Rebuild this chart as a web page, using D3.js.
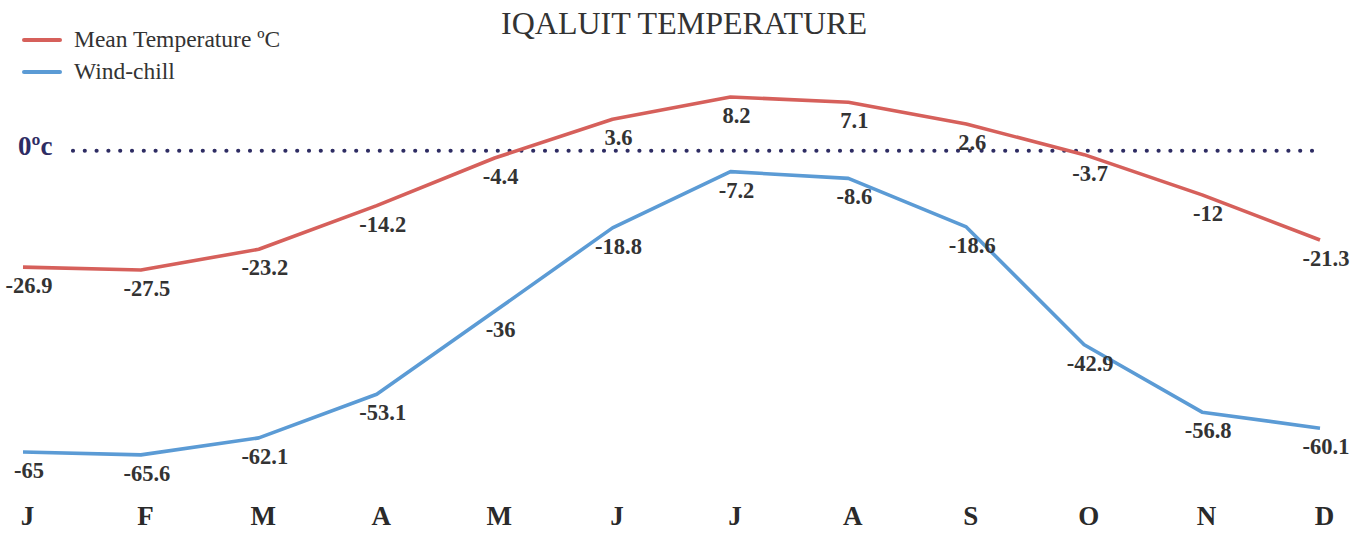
<!DOCTYPE html>
<html>
<head>
<meta charset="utf-8">
<script src="https://cdn.jsdelivr.net/npm/d3@7"></script>
<style>
  html, body { margin: 0; padding: 0; background: #fff; }
  svg { display: block; }
</style>
</head>
<body>
<svg id="chart" width="1363" height="533"></svg>
<script>
// ---- data ----
const months = ["J","F","M","A","M","J","J","A","S","O","N","D"];
const monthKeys = ["Jan","Feb","Mar","Apr","May","Jun","Jul","Aug","Sep","Oct","Nov","Dec"];
const meanTemp = [-26.9, -27.5, -23.2, -14.2, -4.4, 3.6, 8.2, 7.1, 2.6, -3.7, -12, -21.3];
const windChill = [-65, -65.6, -62.1, -53.1, -36, -18.8, -7.2, -8.6, -18.6, -42.9, -56.8, -60.1];
const seriesNames = ["Mean Temperature ºC", "Wind-chill"];
const title = "IQALUIT TEMPERATURE";
const zeroLabel = "0ºc";
const zeroLineValue = -2.9; // where the reference draws its dotted "0ºc" line

// ---- layout ----
const W = 1363, H = 533;
const serif = "'Liberation Serif', 'DejaVu Serif', serif";
const colors = ["#d6605b", "#5b9bd5"];
const navy = "#2e2c63";
const textColor = "#333333";

const svg = d3.select("#chart");

const x = d3.scalePoint().domain(monthKeys).range([23, 1320]);
const y = d3.scaleLinear().domain([-70, 10]).range([476.2, 88.2]);

// title
svg.append("text")
  .attr("x", 684).attr("y", 34)
  .attr("text-anchor", "middle")
  .attr("font-family", serif).attr("font-size", 32)
  .attr("fill", textColor)
  .text(title);

// legend
const legend = svg.append("g");
seriesNames.forEach((name, i) => {
  const ly = 40 + i * 32;
  legend.append("line")
    .attr("x1", 24).attr("x2", 60).attr("y1", ly).attr("y2", ly)
    .attr("stroke", colors[i]).attr("stroke-width", 4).attr("stroke-linecap", "round");
  legend.append("text")
    .attr("x", 74).attr("y", ly + 7)
    .attr("font-family", serif).attr("font-size", 23.5)
    .attr("fill", textColor)
    .text(name);
});

// zero line
svg.append("text")
  .attr("x", 18).attr("y", y(zeroLineValue) + 4)
  .attr("font-family", serif).attr("font-size", 27).attr("font-weight", "bold")
  .attr("fill", navy)
  .text(zeroLabel);
svg.append("line")
  .attr("x1", 73).attr("x2", 1322)
  .attr("y1", y(zeroLineValue)).attr("y2", y(zeroLineValue))
  .attr("stroke", navy).attr("stroke-width", 4.2)
  .attr("stroke-linecap", "round")
  .attr("stroke-dasharray", "0 11.8");

// lines
const line = d3.line()
  .x((d, i) => x(monthKeys[i]))
  .y(d => y(d));

[meanTemp, windChill].forEach((vals, si) => {
  svg.append("path")
    .datum(vals)
    .attr("d", line)
    .attr("fill", "none")
    .attr("stroke", colors[si])
    .attr("stroke-width", 3.6)
    .attr("stroke-linejoin", "round");

  svg.append("g").selectAll("text")
    .data(vals)
    .join("text")
    .attr("x", (d, i) => x(monthKeys[i]) + 6)
    .attr("y", d => y(d) + 26)
    .attr("text-anchor", "middle")
    .attr("font-family", serif).attr("font-size", 22.5).attr("font-weight", "bold")
    .attr("fill", textColor)
    .text(d => String(d));
});

// month axis labels
const xAxis = d3.axisBottom(x).tickSize(0).tickFormat((d, i) => months[i]);
const axisG = svg.append("g")
  .attr("transform", "translate(4, 500)")
  .call(xAxis);
axisG.select(".domain").remove();
axisG.selectAll("text")
  .attr("dy", 0).attr("y", 25)
  .attr("font-family", serif).attr("font-size", 27).attr("font-weight", "bold")
  .attr("fill", "#2a2a2a");
</script>
</body>
</html>
